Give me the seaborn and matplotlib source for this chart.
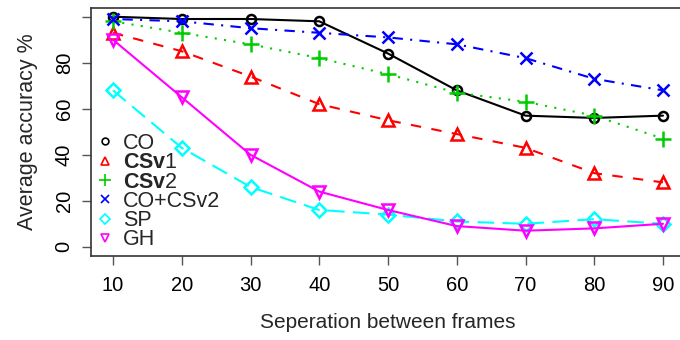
import matplotlib
matplotlib.use("Agg")
import matplotlib.pyplot as plt
import seaborn as sns
import pandas as pd
from matplotlib.lines import Line2D

# Separation between frames (x axis)
frames = [10, 20, 30, 40, 50, 60, 70, 80, 90]

# Average accuracy (%) per method
co = [100, 99, 99, 98, 84, 68, 57, 56, 57]
csv1 = [93, 85, 74, 62, 55, 49, 43, 32, 28]
csv2 = [98, 93, 88, 82, 75, 67, 63, 57, 47]
co_csv2 = [99, 98, 95, 93, 91, 88, 82, 73, 68]
sp = [68, 43, 26, 16, 14, 11, 10, 12, 10]
gh = [90, 65, 40, 24, 16, 9, 7, 8, 10]

labels = ["CO", r"$\mathbf{CSv}$1", r"$\mathbf{CSv}$2", "CO+CSv2", "SP", "GH"]
series = [co, csv1, csv2, co_csv2, sp, gh]

sns.set_style("ticks")
plt.rcParams["font.family"] = ["Liberation Sans", "DejaVu Sans"]
plt.rcParams["mathtext.fontset"] = "custom"
plt.rcParams["mathtext.rm"] = "Liberation Sans"
plt.rcParams["mathtext.bf"] = "Liberation Sans:bold"

colors = ["#000000", "#FF0000", "#00CD00", "#0000FF", "#00FFFF", "#FF00FF"]
markers = ["o", "^", "+", "x", "D", "v"]
msizes = [6.5, 8.5, 11, 8.5, 7, 8.5]
dashes = [None, (5, 5), (1, 3.5), (1, 3.5, 5, 3.5), (8, 4), None]

fig = plt.figure(figsize=(6.8, 3.4), dpi=100)
W, H = 680, 340
ax = fig.add_axes([91 / W, 1 - 256 / H, (685 - 91) / W, (256 - 7.5) / H])

for vals, lab, c, m, ms, d in zip(series, labels, colors, markers, msizes, dashes):
    df = pd.DataFrame({"frames": frames, "acc": vals})
    sns.lineplot(data=df, x="frames", y="acc", ax=ax, color=c, lw=1.5,
                 marker=m, markersize=ms, markerfacecolor="none",
                 markeredgecolor=c, markeredgewidth=1.8, legend=False)
    line = ax.get_lines()[-1]
    if d is not None:
        line.set_dashes(d)

ax.set_xlim(6.8, 93.2)
ax.set_ylim(-4, 104)
ax.set_xticks(frames)
ax.set_xticklabels([str(f) for f in frames])
ax.set_yticks([0, 20, 40, 60, 80, 100])
ax.set_yticklabels(["0", "20", "40", "60", "80", ""], rotation=90, va="center")
ax.tick_params(axis="both", direction="out", length=6.5, width=1.0,
               labelsize=14.5, colors="#555555", labelcolor="black")
ax.tick_params(axis="x", pad=8)
ax.tick_params(axis="y", pad=6)
for s in ax.spines.values():
    s.set_visible(True)
    s.set_linewidth(1.2)
    s.set_color("#333333")

ax.set_xlabel("Seperation between frames", fontsize=15, labelpad=13)
ax.set_ylabel("Average accuracy %", fontsize=15.5, labelpad=12)

handles = [Line2D([], [], ls="none", marker=m, color=c, markerfacecolor="none",
                  markeredgecolor=c, markersize=ms * 0.75, markeredgewidth=1.2)
           for m, c, ms in zip(markers, colors, msizes)]
ax.legend(handles, labels, loc="upper left", bbox_to_anchor=(96 / W, 1 - 133 / H),
          bbox_transform=fig.transFigure, frameon=False, fontsize=15.5,
          labelspacing=-0.08, handlelength=0.8, handletextpad=0.45,
          borderpad=0, borderaxespad=0)

fig.savefig("out.png", dpi=100)
